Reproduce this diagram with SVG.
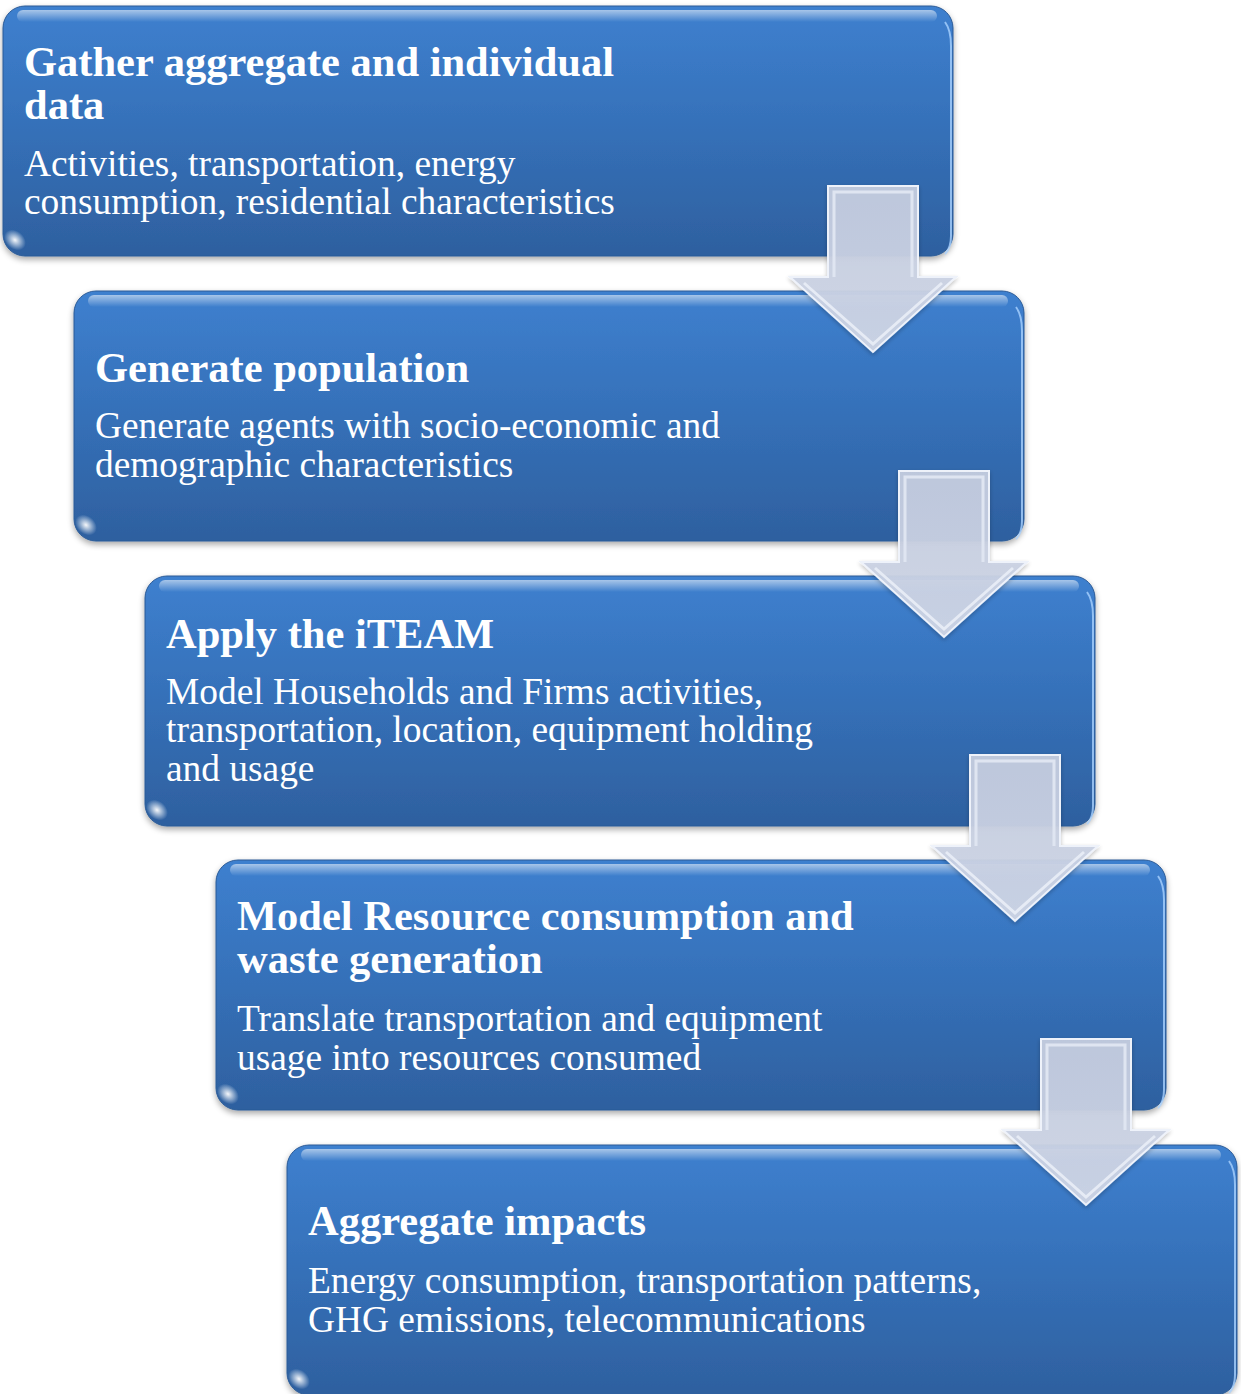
<svg xmlns="http://www.w3.org/2000/svg" width="1241" height="1394" viewBox="0 0 1241 1394">
<defs>
<linearGradient id="boxg" x1="0" y1="0" x2="0" y2="1">
<stop offset="0" stop-color="#3e80cf"/>
<stop offset="0.5" stop-color="#3570b8"/>
<stop offset="1" stop-color="#2e609f"/>
</linearGradient>
<linearGradient id="hl" x1="0" y1="0" x2="0" y2="1">
<stop offset="0" stop-color="#ffffff" stop-opacity="0.55"/>
<stop offset="1" stop-color="#ffffff" stop-opacity="0"/>
</linearGradient>
<linearGradient id="arrg" x1="0" y1="0" x2="0" y2="1">
<stop offset="0" stop-color="#c4ccdf"/>
<stop offset="1" stop-color="#cfd6e6"/>
</linearGradient>
<radialGradient id="glare" cx="0.5" cy="0.5" r="0.5">
<stop offset="0" stop-color="#ffffff" stop-opacity="0.95"/>
<stop offset="1" stop-color="#ffffff" stop-opacity="0"/>
</radialGradient>
<filter id="sh" x="-5%" y="-5%" width="110%" height="115%">
<feGaussianBlur in="SourceAlpha" stdDeviation="3"/>
<feOffset dx="0" dy="3" result="b"/>
<feComponentTransfer><feFuncA type="linear" slope="0.35"/></feComponentTransfer>
<feMerge><feMergeNode/><feMergeNode in="SourceGraphic"/></feMerge>
</filter>
<filter id="ash" x="-20%" y="-20%" width="140%" height="140%">
<feGaussianBlur in="SourceAlpha" stdDeviation="2"/>
<feOffset dx="0" dy="2"/>
<feComponentTransfer><feFuncA type="linear" slope="0.25"/></feComponentTransfer>
<feMerge><feMergeNode/><feMergeNode in="SourceGraphic"/></feMerge>
</filter>
<g id="box">
<rect x="0" y="0" width="950" height="250" rx="22" fill="url(#boxg)" stroke="#2a5a96" stroke-width="1" filter="url(#sh)"/>
<rect x="14" y="4" width="920" height="12" rx="6" fill="url(#hl)"/>
<path d="M 942 16 Q 948 24 948 40 L 948 230 Q 948 242 942 248" fill="none" stroke="#a9d2ff" stroke-width="2" opacity="0.8"/>
<ellipse cx="12" cy="234" rx="12" ry="9" fill="url(#glare)" transform="rotate(40 12 234)"/>
</g>
<g id="arrow">
<polygon points="38,0 128,0 128,91 166,91 83,166 0,91 38,91" fill="url(#arrg)" fill-opacity="0.95" stroke="#eef2fa" stroke-width="2" filter="url(#ash)"/>
<polyline points="44,91 44,6 122,6 122,91" fill="none" stroke="#dfe5f1" stroke-width="3"/>
<polyline points="14,97 83,158 152,97" fill="none" stroke="#e6ebf5" stroke-width="3"/>
</g>
</defs>
<style>
.t{font-family:"Liberation Serif","Times New Roman",serif;font-weight:bold;font-size:42.5px;fill:#ffffff}
.b{font-family:"Liberation Serif","Times New Roman",serif;font-size:37.4px;fill:#ffffff}
</style>
<g id="node1">
<use href="#box" x="3" y="6"/>
<text class="t" x="24" y="76">Gather aggregate and individual</text>
<text class="t" x="24" y="119">data</text>
<text class="b" x="24" y="176">Activities, transportation, energy</text>
<text class="b" x="24" y="214">consumption, residential characteristics</text>
</g>
<g id="node2">
<use href="#box" x="74" y="291"/>
<text class="t" x="95" y="382">Generate population</text>
<text class="b" x="95" y="438">Generate agents with socio-economic and</text>
<text class="b" x="95" y="477">demographic characteristics</text>
</g>
<g id="node3">
<use href="#box" x="145" y="576"/>
<text class="t" x="166" y="648">Apply the iTEAM</text>
<text class="b" x="166" y="704">Model Households and Firms activities,</text>
<text class="b" x="166" y="742">transportation, location, equipment holding</text>
<text class="b" x="166" y="781">and usage</text>
</g>
<g id="node4">
<use href="#box" x="216" y="860"/>
<text class="t" x="237" y="930">Model Resource consumption and</text>
<text class="t" x="237" y="973">waste generation</text>
<text class="b" x="237" y="1031">Translate transportation and equipment</text>
<text class="b" x="237" y="1070">usage into resources consumed</text>
</g>
<g id="node5">
<use href="#box" x="287" y="1145"/>
<text class="t" x="308" y="1235">Aggregate impacts</text>
<text class="b" x="308" y="1293">Energy consumption, transportation patterns,</text>
<text class="b" x="308" y="1332">GHG emissions, telecommunications</text>
</g>
<g id="connectors">
<use href="#arrow" x="790" y="186"/>
<use href="#arrow" x="861" y="471"/>
<use href="#arrow" x="932" y="755"/>
<use href="#arrow" x="1003" y="1039"/>
</g>
</svg>
